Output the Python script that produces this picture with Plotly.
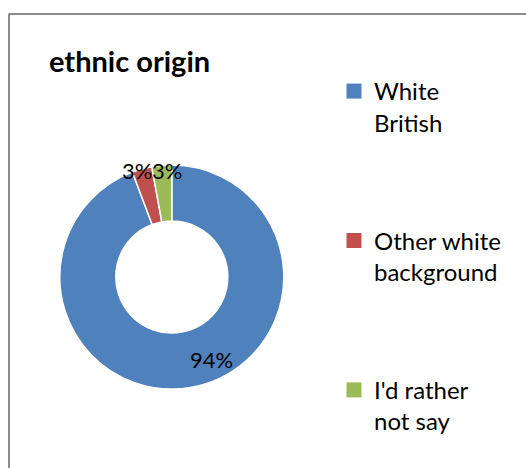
import plotly.graph_objects as go

# Survey responses: ethnic origin
categories = ["White British", "Other white background", "I'd rather not say"]
legend_names = ["White<br>British", "Other white<br>background", "I'd rather<br>not say"]
counts = [66, 2, 2]
colors = ["#4F81BD", "#C0504D", "#9BBB59"]

W, H = 526, 468
FONT = "Lato"

# Donut placement in pixels (left, top, right, bottom)
donut_box = (59.3, 165, 284.3, 389)
# Pixel positions of the percentage labels
label_xy = [(211, 359), (137, 170), (167, 170)]

total = sum(counts)
pct_text = [f"{round(100 * c / total)}%" for c in counts]

fig = go.Figure()
fig.add_trace(go.Pie(
    values=counts,
    labels=categories,
    hole=0.5,
    sort=False,
    direction="clockwise",
    rotation=0,
    marker=dict(colors=colors, line=dict(color="white", width=1.5)),
    textinfo="none",
    hoverinfo="label+percent",
    showlegend=False,
    domain=dict(x=[donut_box[0] / W, donut_box[2] / W],
                y=[1 - donut_box[3] / H, 1 - donut_box[1] / H]),
))

# Legend entries, one group each so they can be spaced apart
for i, (name, col) in enumerate(zip(legend_names, colors)):
    fig.add_trace(go.Scatter(
        x=[None], y=[None], mode="markers", name=name,
        marker=dict(symbol="square", size=15, color=col),
        legendgroup=f"g{i}", showlegend=True, hoverinfo="skip",
    ))

annotations = []
for txt, (px, py) in zip(pct_text, label_xy):
    annotations.append(dict(
        x=px / W, y=1 - py / H, xref="paper", yref="paper",
        text=txt, showarrow=False, xanchor="center", yanchor="middle",
        font=dict(family=FONT, size=22, color="black"),
    ))

fig.update_layout(
    width=W, height=H,
    margin=dict(l=0, r=0, t=0, b=0),
    paper_bgcolor="white", plot_bgcolor="white",
    title=dict(text="<b>ethnic origin</b>", x=49 / W, xanchor="left",
               y=1 - 62 / H, yanchor="middle",
               font=dict(family=FONT, size=29, color="black")),
    xaxis=dict(visible=False), yaxis=dict(visible=False),
    legend=dict(x=334 / W, y=1 - 69 / H, xanchor="left", yanchor="top",
                font=dict(family=FONT, size=24, color="black"),
                valign="top", tracegroupgap=84, itemsizing="trace",
                bgcolor="rgba(0,0,0,0)"),
    annotations=annotations,
    shapes=[
        dict(type="line", xref="paper", yref="paper",
             x0=9 / W, x1=9 / W, y0=1 - 13.5 / H, y1=-0.05,
             line=dict(color="#8c8c8c", width=2)),
        dict(type="line", xref="paper", yref="paper",
             x0=9 / W, x1=1.05, y0=1 - 14 / H, y1=1 - 14 / H,
             line=dict(color="#8c8c8c", width=2)),
    ],
    font=dict(family=FONT),
)

fig.write_html("out.html")
